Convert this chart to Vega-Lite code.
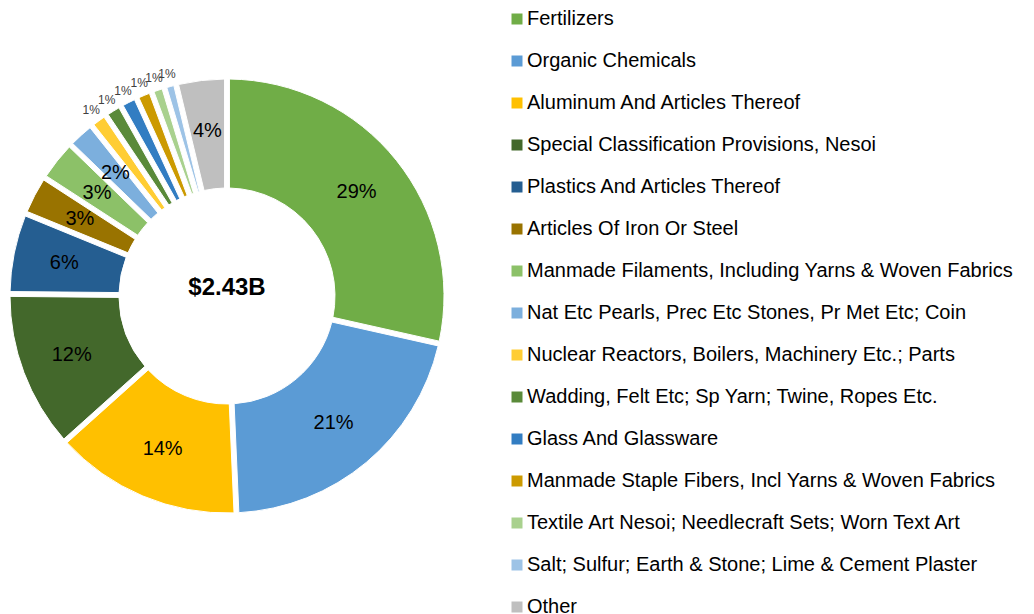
{
  "$schema": "https://vega.github.io/schema/vega-lite/v6.json",
  "width": 454,
  "height": 592,
  "autosize": {"type": "pad"},
  "padding": 0,
  "background": "white",
  "config": {"view": {"stroke": null}, "font": "Liberation Sans"},
  "datasets": {
    "exports": [
      {"idx": 1, "category": "Fertilizers", "share": 28.8, "label": "29%"},
      {"idx": 2, "category": "Organic Chemicals", "share": 21.0, "label": "21%"},
      {"idx": 3, "category": "Aluminum And Articles Thereof", "share": 14.2, "label": "14%"},
      {"idx": 4, "category": "Special Classification Provisions, Nesoi", "share": 11.9, "label": "12%"},
      {"idx": 5, "category": "Plastics And Articles Thereof", "share": 6.1, "label": "6%"},
      {"idx": 6, "category": "Articles Of Iron Or Steel", "share": 3.0, "label": "3%"},
      {"idx": 7, "category": "Manmade Filaments, Including Yarns & Woven Fabrics", "share": 3.1, "label": "3%"},
      {"idx": 8, "category": "Nat Etc Pearls, Prec Etc Stones, Pr Met Etc; Coin", "share": 2.1, "label": "2%"},
      {"idx": 9, "category": "Nuclear Reactors, Boilers, Machinery Etc.; Parts", "share": 1.3, "label": "1%"},
      {"idx": 10, "category": "Wadding, Felt Etc; Sp Yarn; Twine, Ropes Etc.", "share": 1.3, "label": "1%"},
      {"idx": 11, "category": "Glass And Glassware", "share": 1.3, "label": "1%"},
      {"idx": 12, "category": "Manmade Staple Fibers, Incl Yarns & Woven Fabrics", "share": 1.2, "label": "1%"},
      {"idx": 13, "category": "Textile Art Nesoi; Needlecraft Sets; Worn Text Art", "share": 1.0, "label": "1%"},
      {"idx": 14, "category": "Salt; Sulfur; Earth & Stone; Lime & Cement Plaster", "share": 0.9, "label": "1%"},
      {"idx": 15, "category": "Other", "share": 3.8, "label": "4%"}
    ],
    "center": [{"text": "$2.43B"}]
  },
  "layer": [
    {
      "data": {"name": "exports"},
      "mark": {"type": "arc", "innerRadius": 108, "outerRadius": 217, "padAngle": 0.02, "stroke": "white", "strokeWidth": 1},
      "encoding": {
        "theta": {"field": "share", "type": "quantitative", "stack": true},
        "order": {"field": "idx", "type": "quantitative"},
        "color": {
          "field": "category",
          "type": "nominal",
          "scale": {
            "domain": [
              "Fertilizers",
              "Organic Chemicals",
              "Aluminum And Articles Thereof",
              "Special Classification Provisions, Nesoi",
              "Plastics And Articles Thereof",
              "Articles Of Iron Or Steel",
              "Manmade Filaments, Including Yarns & Woven Fabrics",
              "Nat Etc Pearls, Prec Etc Stones, Pr Met Etc; Coin",
              "Nuclear Reactors, Boilers, Machinery Etc.; Parts",
              "Wadding, Felt Etc; Sp Yarn; Twine, Ropes Etc.",
              "Glass And Glassware",
              "Manmade Staple Fibers, Incl Yarns & Woven Fabrics",
              "Textile Art Nesoi; Needlecraft Sets; Worn Text Art",
              "Salt; Sulfur; Earth & Stone; Lime & Cement Plaster",
              "Other"
            ],
            "range": ["#70AD47", "#5B9BD5", "#FFC000", "#43682B", "#255E91", "#997300", "#8CC168", "#7CAFDD", "#FFCD33", "#5A8A39", "#327DC2", "#CC9A00", "#A9D18E", "#9DC3E6", "#BFBFBF"]
          },
          "legend": {
            "orient": "none",
            "legendX": 507,
            "legendY": 9,
            "title": null,
            "symbolType": "square",
            "symbolSize": 121,
            "symbolStrokeWidth": 0,
            "labelFontSize": 20,
            "labelFont": "Liberation Sans",
            "labelColor": "black",
            "labelOffset": 0,
            "rowPadding": 22,
            "labelLimit": 600
          }
        }
      }
    },
    {
      "data": {"name": "exports"},
      "mark": {"type": "text", "radius": 166, "fontSize": 20, "color": "black", "font": "Liberation Sans"},
      "encoding": {
        "theta": {"field": "share", "type": "quantitative", "stack": true},
        "order": {"field": "idx", "type": "quantitative"},
        "text": {"field": "label", "type": "nominal", "condition": {"test": "datum.share < 1.6", "value": ""}},
        "fontSize": {"condition": {"test": "datum.share < 3.5", "value": 16}, "value": 20}
      }
    },
    {
      "data": {"name": "exports"},
      "mark": {"type": "text", "radius": 230, "fontSize": 12, "color": "#404040", "font": "Liberation Sans"},
      "encoding": {
        "theta": {"field": "share", "type": "quantitative", "stack": true},
        "order": {"field": "idx", "type": "quantitative"},
        "text": {"field": "label", "type": "nominal", "condition": {"test": "datum.share >= 1.6", "value": ""}}
      }
    },
    {
      "data": {"name": "center"},
      "mark": {"type": "text", "fontSize": 24, "fontWeight": "bold", "color": "black", "font": "Liberation Sans", "dy": -8},
      "encoding": {"text": {"field": "text", "type": "nominal"}}
    }
  ]
}
